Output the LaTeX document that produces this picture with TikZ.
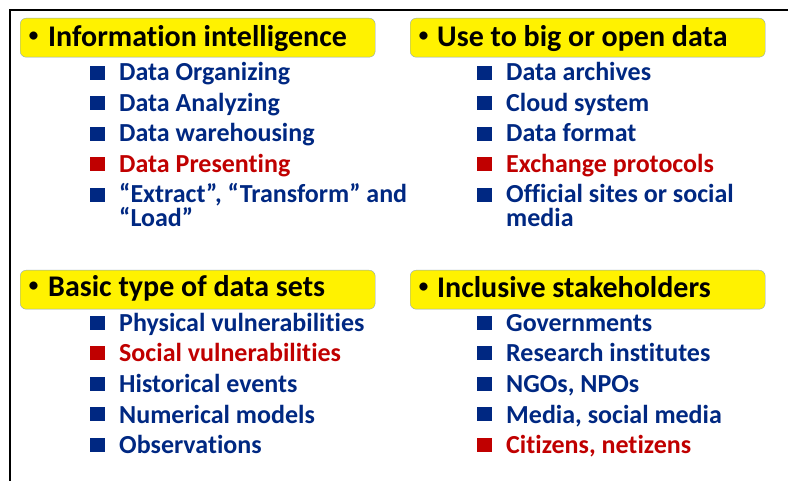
\documentclass[tikz,border=0pt]{standalone}
\usepackage{fontspec}
\setmainfont{Carlito}[Ligatures=CommonOff]
\usetikzlibrary{positioning}
\definecolor{navy}{RGB}{0,40,130}
\definecolor{darkred}{RGB}{192,0,0}
\definecolor{boxline}{RGB}{140,165,190}

\begin{document}
\begin{tikzpicture}[x=1pt,y=-1pt,
		head/.style={draw=boxline,fill=yellow,rounded corners=6pt,minimum width=355pt,minimum height=39pt,inner sep=0pt,anchor=north west},
		hdot/.style={inner sep=0pt,font=\fontsize{23}{23}\selectfont},
		htext/.style={anchor=base west,inner sep=0pt,font=\fontsize{30}{32}\selectfont\bfseries},
		sq/.style={fill=navy,minimum width=15pt,minimum height=14pt,inner sep=0pt,anchor=south west},
		rsq/.style={sq,fill=darkred},
		txt/.style={anchor=base west,inner sep=0pt,text=navy,font=\fontsize{26}{27}\selectfont\bfseries},
		rtxt/.style={txt,text=darkred}]
	\useasboundingbox (0,0) rectangle (788,481);
	%% frame
	\draw[line width=2pt] (10,481) -- (10,10) -- (790,10);
	%% headers
	\node (h1) at (20,18) [head] {};
	\node (h2) at (410,18) [head] {};
	\node (h3) at (20,270) [head] {};
	\node (h4) at (410,270) [head] {};
	\node (b1) at (33.5,37) [hdot] {\textbullet};
	\node (t1) at (48,47) [htext] {Information intelligence};
	\node (b2) at (423.5,37) [hdot] {\textbullet};
	\node (t2) at (437,47) [htext] {Use to big or open data};
	\node (b3) at (33.5,287) [hdot] {\textbullet};
	\node (t3) at (48,297) [htext] {Basic type of data sets};
	\node (b4) at (423.5,288) [hdot] {\textbullet};
	\node (t4) at (437,298) [htext] {Inclusive stakeholders};
	%% information intelligence
	\node (s11) at (90,80) [sq] {};
	\node (a11) at (119,81) [txt] {Data Organizing};
	\node (s12) at (90,110.5) [sq] {};
	\node (a12) at (119,111.5) [txt] {Data Analyzing};
	\node (s13) at (90,141) [sq] {};
	\node (a13) at (119,142) [txt] {Data warehousing};
	\node (s14) at (90,171.5) [rsq] {};
	\node (a14) at (119,172.5) [rtxt] {Data Presenting};
	\node (s15) at (90,202) [sq] {};
	\node (a15) at (119,203) [txt] {“Extract”, “Transform” and};
	\node (a15x) at (119,227) [txt] {“Load”};
	%% big or open data
	\node (s21) at (477,80) [sq] {};
	\node (a21) at (506,81) [txt] {Data archives};
	\node (s22) at (477,110.5) [sq] {};
	\node (a22) at (506,111.5) [txt] {Cloud system};
	\node (s23) at (477,141) [sq] {};
	\node (a23) at (506,142) [txt] {Data format};
	\node (s24) at (477,171.5) [rsq] {};
	\node (a24) at (506,172.5) [rtxt] {Exchange protocols};
	\node (s25) at (477,202) [sq] {};
	\node (a25) at (506,203) [txt] {Official sites or social};
	\node (a25x) at (506,227) [txt] {media};
	%% data sets
	\node (s31) at (90,330) [sq] {};
	\node (a31) at (119,331.5) [txt] {Physical vulnerabilities};
	\node (s32) at (90,360.5) [rsq] {};
	\node (a32) at (119,362) [rtxt] {Social vulnerabilities};
	\node (s33) at (90,391) [sq] {};
	\node (a33) at (119,392.5) [txt] {Historical events};
	\node (s34) at (90,421.5) [sq] {};
	\node (a34) at (119,423) [txt] {Numerical models};
	\node (s35) at (90,452) [sq] {};
	\node (a35) at (119,453.5) [txt] {Observations};
	%% stakeholders
	\node (s41) at (477,330) [sq] {};
	\node (a41) at (506,331.5) [txt] {Governments};
	\node (s42) at (477,360.5) [sq] {};
	\node (a42) at (506,362) [txt] {Research institutes};
	\node (s43) at (477,391) [sq] {};
	\node (a43) at (506,392.5) [txt] {NGOs, NPOs};
	\node (s44) at (477,421.5) [sq] {};
	\node (a44) at (506,423) [txt] {Media, social media};
	\node (s45) at (477,452) [rsq] {};
	\node (a45) at (506,453.5) [rtxt] {Citizens, netizens};
\end{tikzpicture}
\end{document}
